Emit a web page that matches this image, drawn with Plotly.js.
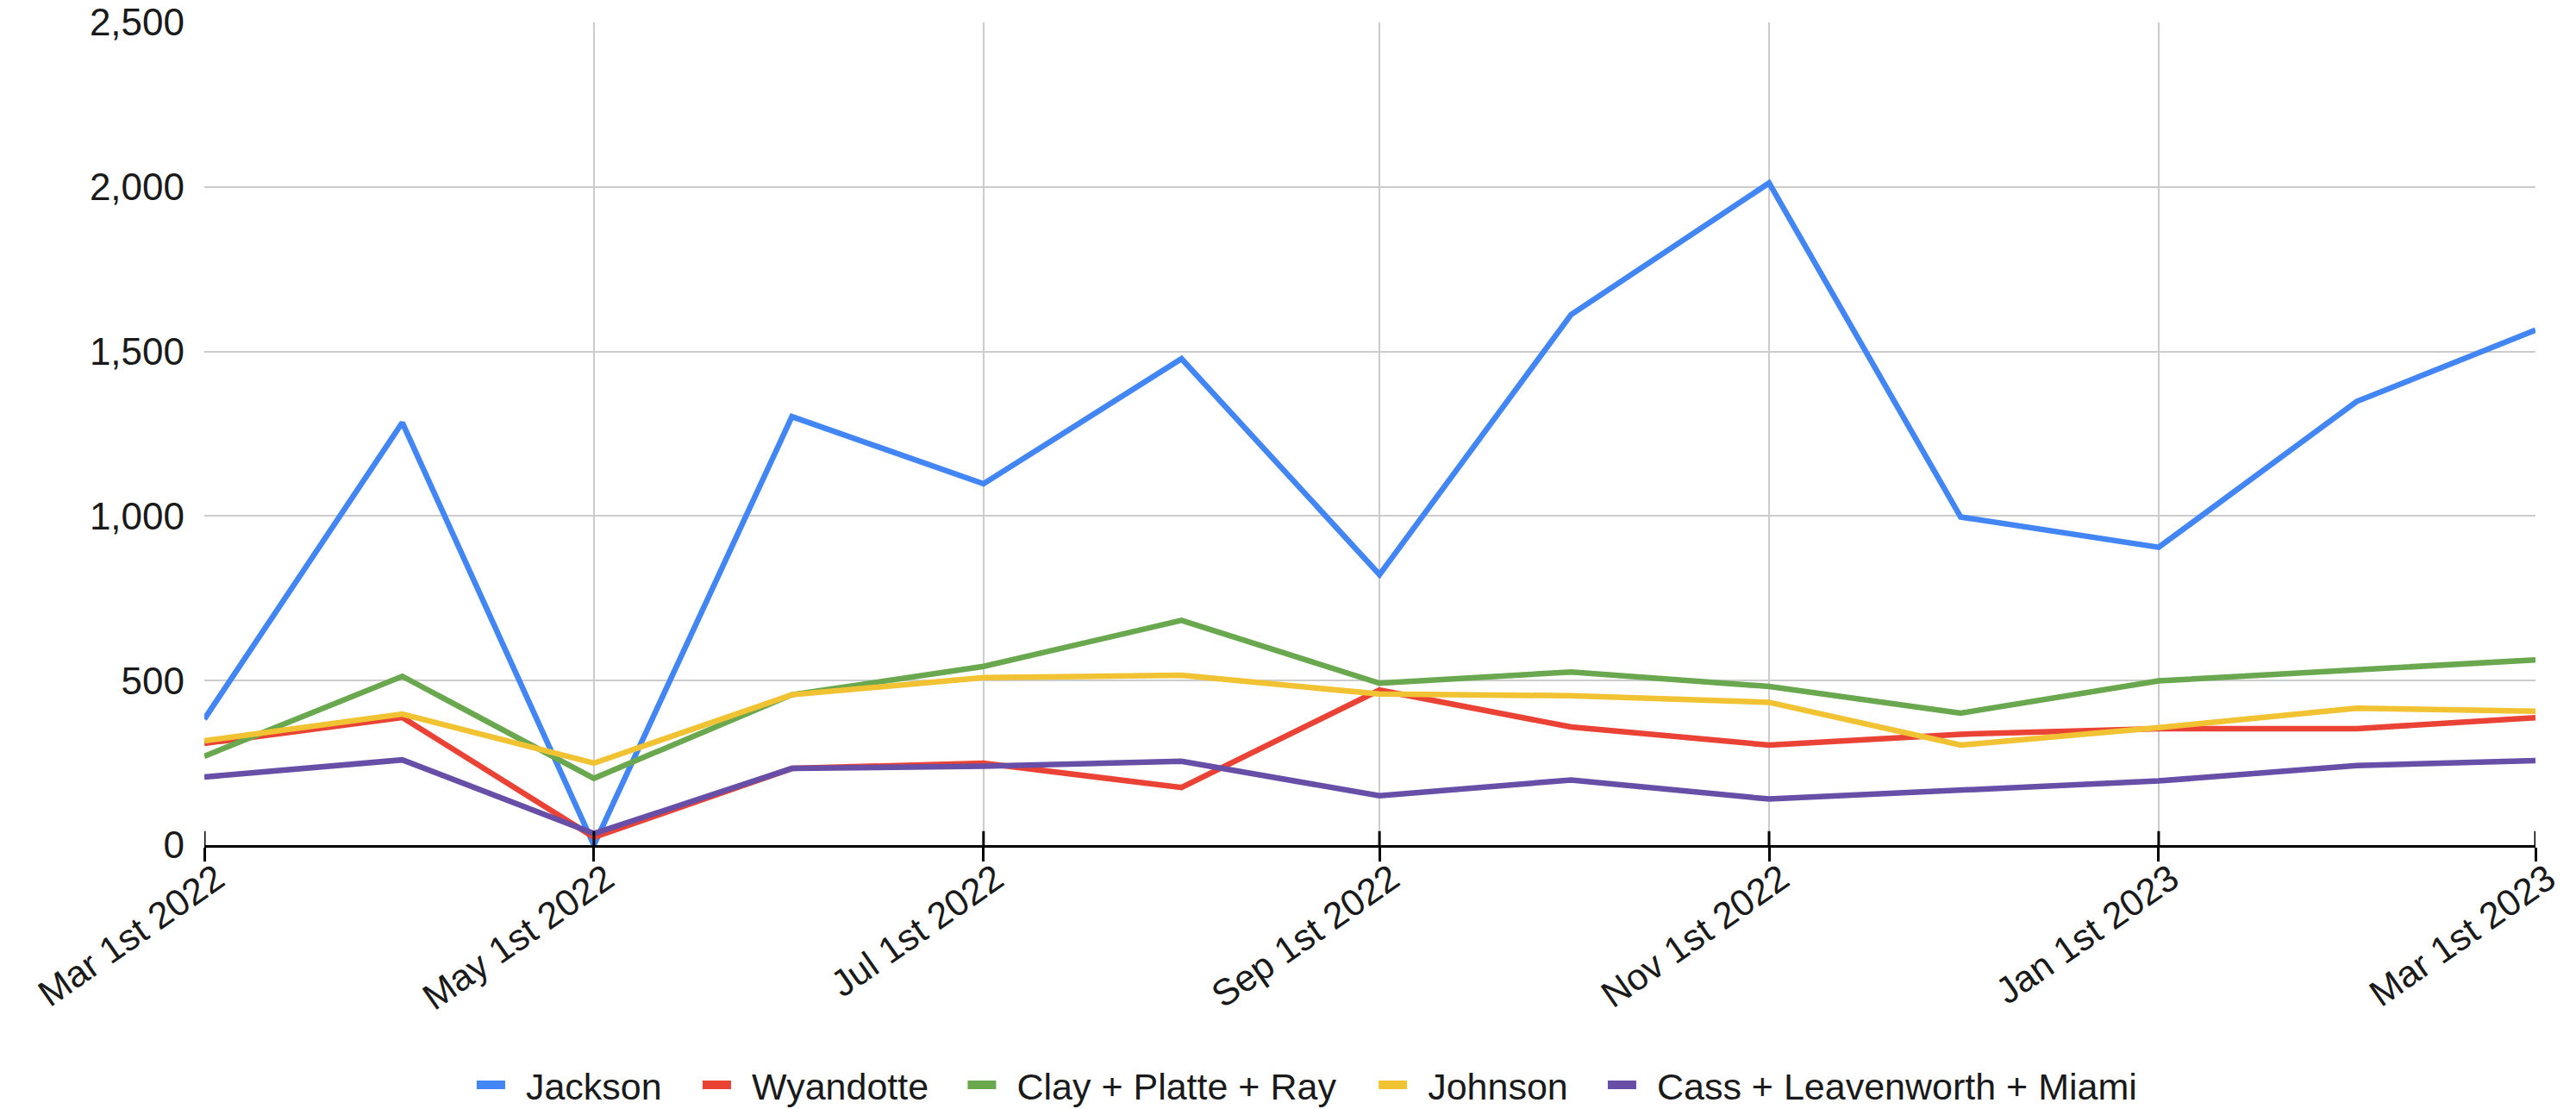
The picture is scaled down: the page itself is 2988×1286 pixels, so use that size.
<!DOCTYPE html>
<html>
<head>
<meta charset="utf-8">
<script src="https://cdn.plot.ly/plotly-3.0.1.min.js"></script>
<style>html,body{margin:0;padding:0;background:#fff;}#chart{width:2988px;height:1286px;}</style>
</head>
<body>
<div id="chart"></div>
<script>
const months = ['2022-03-01','2022-04-01','2022-05-01','2022-06-01','2022-07-01','2022-08-01','2022-09-01','2022-10-01','2022-11-01','2022-12-01','2023-01-01','2023-02-01','2023-03-01'];
const jackson   = [383, 1284, 0, 1302, 1098, 1478, 822, 1612, 2012, 997, 905, 1348, 1565];
const wyandotte = [309, 388, 24, 233, 249, 175, 471, 359, 304, 337, 354, 354, 387];
const clayPlatteRay = [270, 513, 203, 457, 543, 683, 492, 526, 482, 401, 499, 532, 563];
const johnson   = [317, 398, 249, 457, 509, 516, 459, 454, 434, 304, 357, 416, 407];
const cassLeavenworthMiami = [207, 259, 35, 233, 240, 255, 150, 198, 140, 167, 195, 242, 257];

const seriesNames = ['Jackson', 'Wyandotte', 'Clay + Platte + Ray', 'Johnson', 'Cass + Leavenworth + Miami'];
const seriesColors = ['#4285F4', '#EA4335', '#6AA84F', '#F1C232', '#674EA7'];
const seriesValues = [jackson, wyandotte, clayPlatteRay, johnson, cassLeavenworthMiami];

const tickDates = ['2022-03-01','2022-05-01','2022-07-01','2022-09-01','2022-11-01','2023-01-01','2023-03-01'];
const tickLabels = ['Mar 1st 2022','May 1st 2022','Jul 1st 2022','Sep 1st 2022','Nov 1st 2022','Jan 1st 2023','Mar 1st 2023'];

// left edge of each legend entry (paper coords, layout only)
const legendX = [0.1150, 0.2119, 0.3256, 0.5019, 0.6002];
const legendIds = ['legend', 'legend2', 'legend3', 'legend4', 'legend5'];

const FONT = 'Liberation Sans, Arial, sans-serif';
const TXT = '#1a1a1a';

const traces = seriesValues.map((vals, i) => ({
  type: 'scatter', mode: 'lines', x: months, y: vals, name: seriesNames[i],
  line: {color: seriesColors[i], width: 6.5}, showlegend: false, hoverinfo: 'x+y+name'
}));
// legend-only entries: short thick bar followed by a gap before the text
seriesNames.forEach((n, i) => traces.push({
  type: 'scatter', mode: 'lines', x: [null], y: [null], name: n,
  line: {color: seriesColors[i], width: 12, dash: '33px,300px'},
  showlegend: true, legend: legendIds[i]
}));

const shapes = tickDates.map(d => ({
  type: 'line', xref: 'x', yref: 'paper', x0: d, x1: d, y0: 0, y1: 0.017,
  line: {color: '#000', width: 3}, layer: 'above'
}));

const layout = {
  width: 2988, height: 1286,
  margin: {l: 237, r: 47, t: 26, b: 306, autoexpand: false},
  paper_bgcolor: '#fff', plot_bgcolor: '#fff',
  font: {family: FONT, size: 43, color: TXT},
  showlegend: true,
  xaxis: {
    type: 'date', range: ['2022-03-01', '2023-03-01'],
    tickmode: 'array', tickvals: tickDates, ticktext: tickLabels,
    tickangle: -35, tickfont: {family: FONT, size: 43, color: TXT},
    ticklabelshift: 14, ticklabelstandoff: -22,
    showgrid: true, gridcolor: '#cccccc', gridwidth: 2,
    showline: true, linecolor: '#000', linewidth: 3,
    ticks: 'outside', ticklen: 16, tickwidth: 3, tickcolor: '#000',
    zeroline: false, fixedrange: true, automargin: false
  },
  yaxis: {
    range: [0, 2500], tickmode: 'linear', tick0: 0, dtick: 500,
    tickformat: ',d', tickfont: {family: FONT, size: 44, color: TXT},
    showgrid: true, gridcolor: '#cccccc', gridwidth: 2,
    zeroline: false, showline: false, ticks: '', ticklabelstandoff: 22,
    fixedrange: true, automargin: false
  },
  shapes: shapes
};
legendIds.forEach((id, i) => {
  layout[id] = {
    orientation: 'h', x: legendX[i], xanchor: 'left', y: -0.2914, yanchor: 'middle',
    font: {family: FONT, size: 43, color: TXT},
    itemwidth: 52, bgcolor: 'rgba(0,0,0,0)', borderwidth: 0
  };
});

Plotly.newPlot('chart', traces, layout, {displayModeBar: false, staticPlot: true});
</script>
</body>
</html>
